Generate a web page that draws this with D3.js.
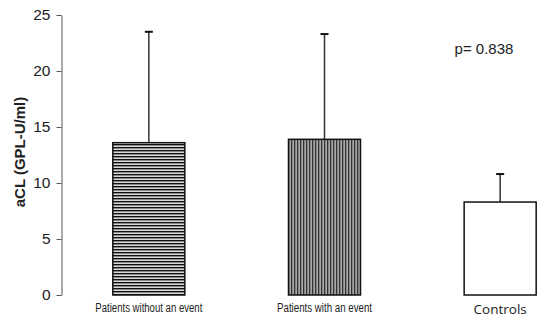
<!DOCTYPE html>
<html>
<head>
<meta charset="utf-8">
<script src="https://cdn.jsdelivr.net/npm/d3@7"></script>
<style>
  body { margin: 0; background: #fff; }
  svg { display: block; }
</style>
</head>
<body>
<div id="chart"></div>
<script>
// data
const groups = ["Patients without an event", "Patients with an event", "Controls"];
const means = [13.6, 13.9, 8.3];
const sds = [9.9, 9.4, 2.5];
const yTicks = [0, 5, 10, 15, 20, 25];
const pText = "p= 0.838";

const width = 546, height = 322;

const svg = d3.select("#chart").append("svg")
    .attr("width", width)
    .attr("height", height);

// patterns for the bar fills
const defs = svg.append("defs");
let hp = defs.append("pattern")
    .attr("id", "hstripe")
    .attr("patternUnits", "userSpaceOnUse")
    .attr("width", 4).attr("height", 3);
hp.append("rect").attr("width", 4).attr("height", 3).attr("fill", "#d8d8d8");
hp.append("rect").attr("width", 4).attr("height", 1.4).attr("fill", "#111");

let vp = defs.append("pattern")
    .attr("id", "vstripe")
    .attr("patternUnits", "userSpaceOnUse")
    .attr("width", 3).attr("height", 4);
vp.append("rect").attr("width", 3).attr("height", 4).attr("fill", "#a8a8a8");
vp.append("rect").attr("width", 1.3).attr("height", 4).attr("fill", "#333");

const fills = ["url(#hstripe)", "url(#vstripe)", "#fff"];

const y = d3.scaleLinear().domain([0, 25]).range([295, 15]);
const x = d3.scaleBand().domain(groups)
    .range([61, 588])
    .paddingInner(0.59)
    .paddingOuter(0.295);

// y axis
const yAxis = svg.append("g")
    .attr("transform", "translate(61.5,0)")
    .call(d3.axisLeft(y).tickValues(yTicks).tickSize(5).tickSizeOuter(0).tickPadding(6));
yAxis.select(".domain").attr("stroke", "#555");
yAxis.selectAll(".tick line").attr("stroke", "#555");
yAxis.selectAll("text")
    .attr("font-family", "Liberation Sans, Arial, sans-serif")
    .attr("font-size", 15.5)
    .attr("fill", "#222");

svg.append("text")
    .attr("transform", "translate(25,152) rotate(-90)")
    .attr("text-anchor", "middle")
    .attr("font-family", "Liberation Sans, Arial, sans-serif")
    .attr("font-weight", "bold")
    .attr("font-size", 15)
    .attr("fill", "#222")
    .text("aCL (GPL-U/ml)");

// error bars (drawn first so bars cover the lower half)
const err = svg.selectAll(".err")
    .data(groups)
    .enter()
    .append("g")
    .attr("class", "err");
err.append("line")
    .attr("x1", d => x(d) + x.bandwidth() / 2)
    .attr("x2", d => x(d) + x.bandwidth() / 2)
    .attr("y1", (d, i) => y(means[i]))
    .attr("y2", (d, i) => y(means[i] + sds[i]))
    .attr("stroke", "#333")
    .attr("stroke-width", 1.5);
err.append("line")
    .attr("x1", d => x(d) + x.bandwidth() / 2 - 4)
    .attr("x2", d => x(d) + x.bandwidth() / 2 + 4)
    .attr("y1", (d, i) => y(means[i] + sds[i]))
    .attr("y2", (d, i) => y(means[i] + sds[i]))
    .attr("stroke", "#111")
    .attr("stroke-width", 2);

// bars
svg.selectAll(".bar")
    .data(groups)
    .enter()
    .append("rect")
    .attr("class", "bar")
    .attr("x", d => x(d))
    .attr("y", (d, i) => y(means[i]))
    .attr("width", x.bandwidth())
    .attr("height", (d, i) => y(0) - y(means[i]))
    .attr("fill", (d, i) => fills[i])
    .attr("stroke", "#111")
    .attr("stroke-width", 1.5);

// category labels (narrow font squeezed to the picture's width)
const labLen = [107, 95, null];
svg.selectAll(".lab")
    .data(groups)
    .enter()
    .append("text")
    .attr("class", "lab")
    .attr("x", d => x(d) + x.bandwidth() / 2)
    .attr("y", (d, i) => i < 2 ? 312 : 314)
    .attr("text-anchor", "middle")
    .attr("font-family", (d, i) => i < 2 ? "Liberation Sans Narrow, Liberation Sans, Arial, sans-serif" : "Open Sans, Calibri, sans-serif")
    .attr("font-size", (d, i) => i < 2 ? 12 : 13.5)
    .attr("fill", "#222")
    .each(function(d, i) {
        if (labLen[i]) {
            d3.select(this).attr("textLength", labLen[i]).attr("lengthAdjust", "spacingAndGlyphs");
        }
    })
    .text(d => d);

svg.append("text")
    .attr("x", 484)
    .attr("y", 54)
    .attr("text-anchor", "middle")
    .attr("font-family", "Liberation Sans, Arial, sans-serif")
    .attr("font-size", 15)
    .attr("fill", "#222")
    .text(pText);
</script>
</body>
</html>
